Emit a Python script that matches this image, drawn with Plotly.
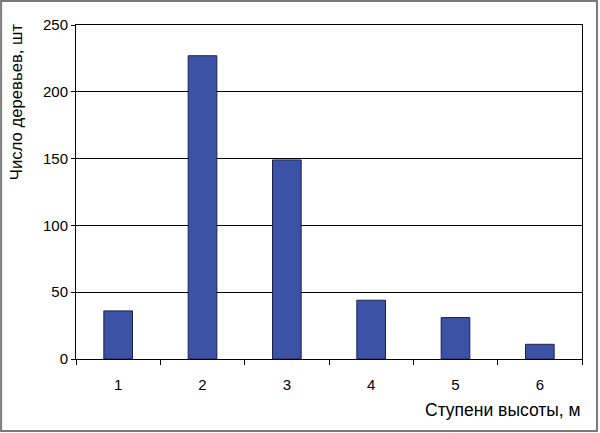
import plotly.graph_objects as go

# height steps (m) and number of trees
steps = ["1", "2", "3", "4", "5", "6"]
tree_counts = [36, 227, 149, 44, 31, 11]
y_ticks = [0, 50, 100, 150, 200, 250]

BAR_COLOUR = "#3C52A5"
FONT = "Arial, Liberation Sans, sans-serif"

fig = go.Figure()
fig.add_trace(
    go.Bar(
        x=steps,
        y=tree_counts,
        marker=dict(color=BAR_COLOUR, line=dict(color="#1C2250", width=1)),
        width=0.34,
    ))

fig.update_layout(
    width=600,
    height=433,
    margin=dict(l=76, r=18, t=25, b=74),
    paper_bgcolor="white",
    plot_bgcolor="white",
    showlegend=False,
    font=dict(family=FONT, size=15, color="black"),
    xaxis=dict(
        showline=True, linecolor="black", linewidth=1, mirror=True,
        showgrid=False, ticks="outside", tickson="boundaries",
        ticklen=5, tickcolor="black", tickfont=dict(size=15),
        ticklabelstandoff=12,
    ),
    yaxis=dict(
        range=[0, 250], tickvals=y_ticks,
        showline=True, linecolor="black", linewidth=1, mirror=True,
        showgrid=True, gridcolor="black", gridwidth=1,
        ticks="outside", ticklen=4, tickcolor="black",
        tickfont=dict(size=15), zeroline=False,
    ),
    shapes=[dict(type="rect", xref="paper", yref="paper",
                 x0=-0.148, x1=1.0296, y0=-0.2156, y1=1.0719,
                 line=dict(color="#7a7a7a", width=2))],
    annotations=[
        dict(text="Ступени высоты, м", xref="paper", yref="paper",
             x=1.002, y=-0.153, xanchor="right", yanchor="middle",
             showarrow=False, font=dict(size=17.5)),
        dict(text="Число деревьев, шт", xref="paper", yref="paper",
             x=-0.1186, y=0.772, xanchor="center", yanchor="middle",
             textangle=-90, showarrow=False, font=dict(size=16.7)),
    ],
)

# drop the default 8px page margin so the 600x433 figure fills the window
fig.write_html("out.html", config={"displayModeBar": False},
               post_script="document.body.style.margin='0';")
